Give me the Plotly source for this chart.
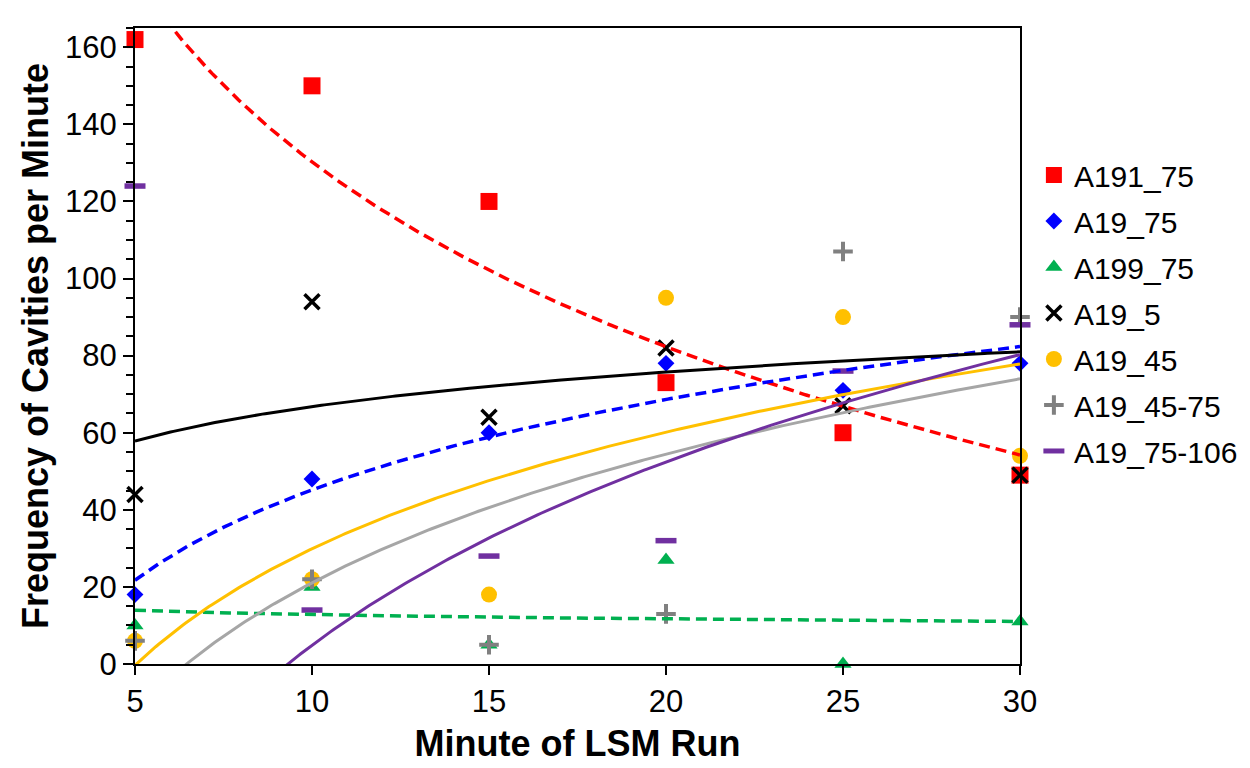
import numpy as np
import plotly.graph_objects as go

minutes = [5, 10, 15, 20, 25, 30]

a191_75 = [162, 150, 120, 73, 60, 49]
a19_75 = [18, 48, 60, 78, 71, 78]
a199_75 = [10, 20, 5, 27, 0, 11]
a19_5 = [44, 94, 64, 82, 67, 49]
a19_45 = [6, 22, 18, 95, 90, 54]
a19_45_75 = [6, 22, 5, 13, 107, 90]
a19_75_106 = [124, 14, 28, 32, 76, 88]

series_names = ["A191_75", "A19_75", "A199_75", "A19_5", "A19_45", "A19_45-75", "A19_75-106"]
series_values = [a191_75, a19_75, a199_75, a19_5, a19_45, a19_45_75, a19_75_106]
series_colors = ["#FF0000", "#0000FF", "#00B050", "#000000", "#FFC000", "#808080", "#7030A0"]
trend_colors = ["#FF0000", "#0000FF", "#00B050", "#000000", "#FFC000", "#A6A6A6", "#7030A0"]
trend_dash = ["11px,6px", "11px,6px", "11px,6px", "solid", "solid", "solid", "solid"]
trend_width = [3.5, 3.5, 3.5, 3, 3, 3, 3]
# which points enter each logarithmic trendline
trend_use = [
    [1, 1, 1, 1, 1, 1],
    [1, 1, 1, 1, 1, 1],
    [1, 1, 1, 1, 1, 1],
    [1, 1, 1, 1, 1, 0],
    [1, 1, 1, 1, 1, 1],
    [1, 1, 1, 1, 1, 1],
    [0, 1, 1, 1, 1, 1],
]

marker_styles = [
    dict(symbol="square", size=17, line=dict(width=0)),
    dict(symbol="diamond", size=13, line=dict(width=0)),
    dict(symbol="triangle-up", size=15, line=dict(width=0)),
    dict(symbol="x-thin", size=15, line=dict(width=3.5)),
    dict(symbol="circle", size=16, line=dict(width=0)),
    dict(symbol="cross-thin", size=14, line=dict(width=4)),
    dict(symbol="line-ew", size=15, line=dict(width=5.5)),
]

FONT = "Arial, Liberation Sans, sans-serif"

fig = go.Figure()

for name, vals, col, ms in zip(series_names, series_values, series_colors, marker_styles):
    m = dict(ms)
    m["color"] = col
    m["line"] = dict(ms["line"], color=col)
    fig.add_trace(go.Scatter(
        x=minutes, y=vals, mode="markers", name=name, marker=m,
        legendgroup=name, cliponaxis=False,
    ))

xs = np.linspace(min(minutes), max(minutes), 300)
for vals, col, dash, lw, use in zip(series_values, trend_colors, trend_dash, trend_width, trend_use):
    xx = np.array([x for x, u in zip(minutes, use) if u], dtype=float)
    yy = np.array([v for v, u in zip(vals, use) if u], dtype=float)
    b, a = np.polyfit(np.log(xx), yy, 1)
    fig.add_trace(go.Scatter(
        x=xs, y=a + b * np.log(xs), mode="lines", showlegend=False,
        line=dict(color=col, width=lw, dash=dash), hoverinfo="skip",
    ))

fig.update_layout(
    width=1242, height=760,
    paper_bgcolor="white", plot_bgcolor="white",
    margin=dict(l=127, r=230, t=20, b=104, autoexpand=False),
    font=dict(family=FONT, size=30, color="black"),
    showlegend=True,
    legend=dict(
        xref="container", yref="container",
        x=0.826, y=0.8145, xanchor="left", yanchor="top",
        font=dict(size=30, family=FONT, color="black"),
        tracegroupgap=4, itemwidth=30, bgcolor="rgba(0,0,0,0)",
    ),
    xaxis=dict(
        range=[5, 30], tickvals=minutes, ticks="outside", ticklen=9, tickwidth=2,
        tickcolor="black", showline=True, linecolor="black", linewidth=2, mirror=True,
        showgrid=False, zeroline=False,
        tickfont=dict(size=31, family=FONT),
        title=dict(text="<b>Minute of LSM Run</b>", font=dict(size=36, family=FONT), standoff=13),
    ),
    yaxis=dict(
        range=[0, 165], tickvals=[0, 20, 40, 60, 80, 100, 120, 140, 160], ticks="outside",
        ticklen=10, tickwidth=2, tickcolor="black",
        minor=dict(dtick=5, ticks="outside", ticklen=7, tickwidth=2, tickcolor="black"),
        showline=True, linecolor="black", linewidth=2, mirror=True,
        showgrid=False, zeroline=False,
        tickfont=dict(size=31, family=FONT),
        title=dict(text="<b>Frequency of Cavities per Minute</b>", font=dict(size=36, family=FONT), standoff=5),
    ),
)

fig.write_html("out.html")
